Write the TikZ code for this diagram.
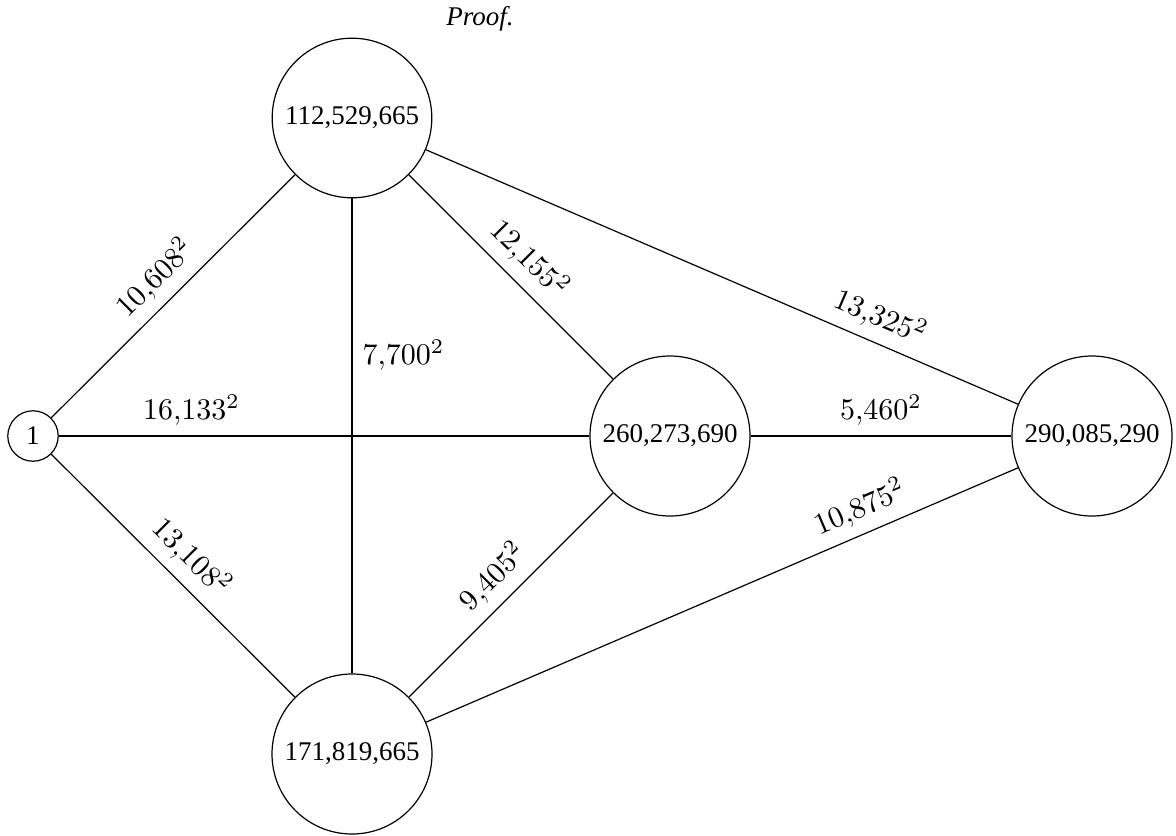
\documentclass[tikz,border=0pt]{standalone}
\usepackage{fontspec}
\setmainfont{Liberation Serif}
\begin{document}
\begin{tikzpicture}[x=0.33333pt,y=-0.33333pt,
  vtx/.style={draw,circle,line width=0.4pt,font=\fontsize{9}{11}\selectfont},
  edge/.style={line width=0.4pt},
  lab/.style={above,sloped},
  title/.style={font=\fontsize{9}{11}\selectfont\itshape}
]
\useasboundingbox (0,0) rectangle (1176,835);
\node[title] (t) at (480,19) {Proof.};
\node[vtx] (a) at (33,436) {1};
\node[vtx] (b) at (352,118) {112,529,665};
\node[vtx] (c) at (670,436) {260,273,690};
\node[vtx] (d) at (352,754) {171,819,665};
\node[vtx] (e) at (1092,436) {290,085,290};
\draw[edge] (a) -- node[lab]{$10{,}608^2$} (b);
\draw[edge] (a) -- node[lab,pos=0.25]{$16{,}133^2$} (c);
\draw[edge] (a) -- node[lab]{$13{,}108^2$} (d);
\draw[edge] (b) -- node[right,pos=0.33]{$7{,}700^2$} (d);
\draw[edge] (b) -- node[lab]{$12{,}155^2$} (c);
\draw[edge] (b) -- node[lab,pos=0.75]{$13{,}325^2$} (e);
\draw[edge] (d) -- node[lab]{$9{,}405^2$} (c);
\draw[edge] (c) -- node[lab]{$5{,}460^2$} (e);
\draw[edge] (d) -- node[lab,pos=0.75]{$10{,}875^2$} (e);
\end{tikzpicture}
\end{document}
